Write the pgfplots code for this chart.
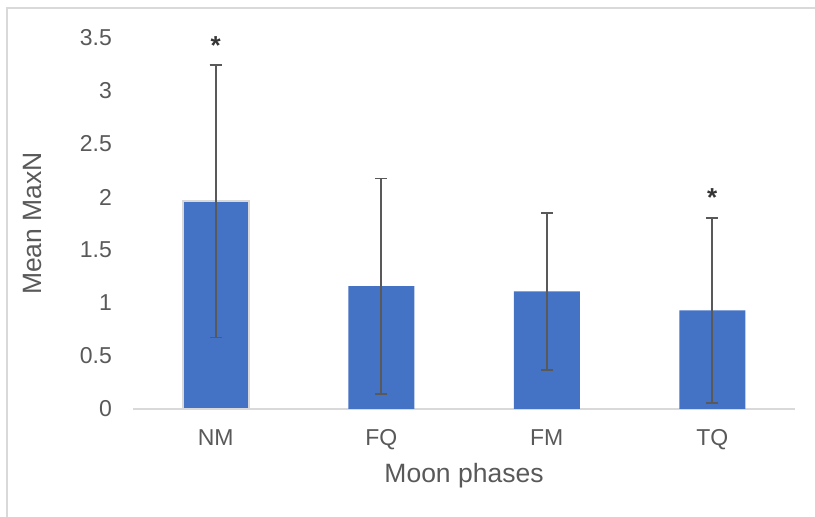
\documentclass[border=0pt]{standalone}
\usepackage{pgfplots}
\pgfplotsset{compat=1.18}
\usepackage{fontspec}
\setmainfont{Liberation Sans}
\definecolor{barblue}{HTML}{4472C4}
\definecolor{txtgray}{HTML}{595959}
\definecolor{linegray}{HTML}{D9D9D9}
\definecolor{errgray}{HTML}{595959}
\begin{document}
\begin{tikzpicture}[x=1pt,y=1pt]
\path[use as bounding box] (0,0) rectangle (815,517);
\draw[linegray, line width=1.5pt] (7,-10) -- (7,509) -- (830,509);
\begin{axis}[
  at={(133pt,108pt)}, anchor=south west,
  scale only axis, width=662pt, height=371pt,
  xmin=-0.5, xmax=3.5, ymin=0, ymax=3.5,
  clip=false,
  axis line style={draw=none},
  major tick length=0pt,
  xtick={0,1,2,3}, xticklabels={NM,FQ,FM,TQ},
  ytick={0,0.5,1,1.5,2,2.5,3,3.5},
  /pgf/number format/assume math mode=true,
  tick label style={font=\fontsize{23}{27}\selectfont, text=txtgray},
  yticklabel style={anchor=east, inner sep=0pt, xshift=-21pt},
  xticklabel style={anchor=north, inner sep=0pt, yshift=-20pt},
  xlabel={Moon phases}, ylabel={Mean MaxN},
  every axis x label/.style={at={(rel axis cs:0.5,0)}, anchor=base, yshift=-73.5pt, font=\fontsize{26.5}{30}\selectfont, text=txtgray},
  every axis y label/.style={at={(rel axis cs:0,0.5)}, anchor=center, xshift=-100pt, rotate=90, font=\fontsize{26.5}{30}\selectfont, text=txtgray},
]
\draw[linegray, line width=1.5pt] (axis cs:-0.5,0) -- (axis cs:3.5,0);
\addplot[ybar, bar width=66pt, bar shift=0pt, fill=barblue, draw=none,
  error bars/.cd, y dir=both, y explicit,
  error bar style={errgray, line width=1.8pt},
  error mark options={errgray, rotate=90, mark size=6pt, line width=1.8pt}]
  coordinates {(0,1.96) +- (0,1.285) (1,1.16) +- (0,1.015) (2,1.11) +- (0,0.74) (3,0.93) +- (0,0.875)};
\addplot[ybar, bar width=66pt, bar shift=0pt, fill=none, draw=linegray, line width=1.5pt]
  coordinates {(0,1.96)};
\addplot[ybar, bar width=66pt, bar shift=0pt, fill=none, draw=none,
  error bars/.cd, y dir=both, y explicit,
  error bar style={errgray, line width=1.8pt},
  error mark options={errgray, rotate=90, mark size=6pt, line width=1.8pt}]
  coordinates {(0,1.96) +- (0,1.285)};
\node[anchor=base, font=\bfseries\fontsize{26}{30}\selectfont, text=txtgray!60!black, inner sep=0pt, yshift=11pt] at (axis cs:0,3.245) {*};
\node[anchor=base, font=\bfseries\fontsize{26}{30}\selectfont, text=txtgray!60!black, inner sep=0pt, yshift=11pt] at (axis cs:3,1.805) {*};
\end{axis}
\end{tikzpicture}
\end{document}
